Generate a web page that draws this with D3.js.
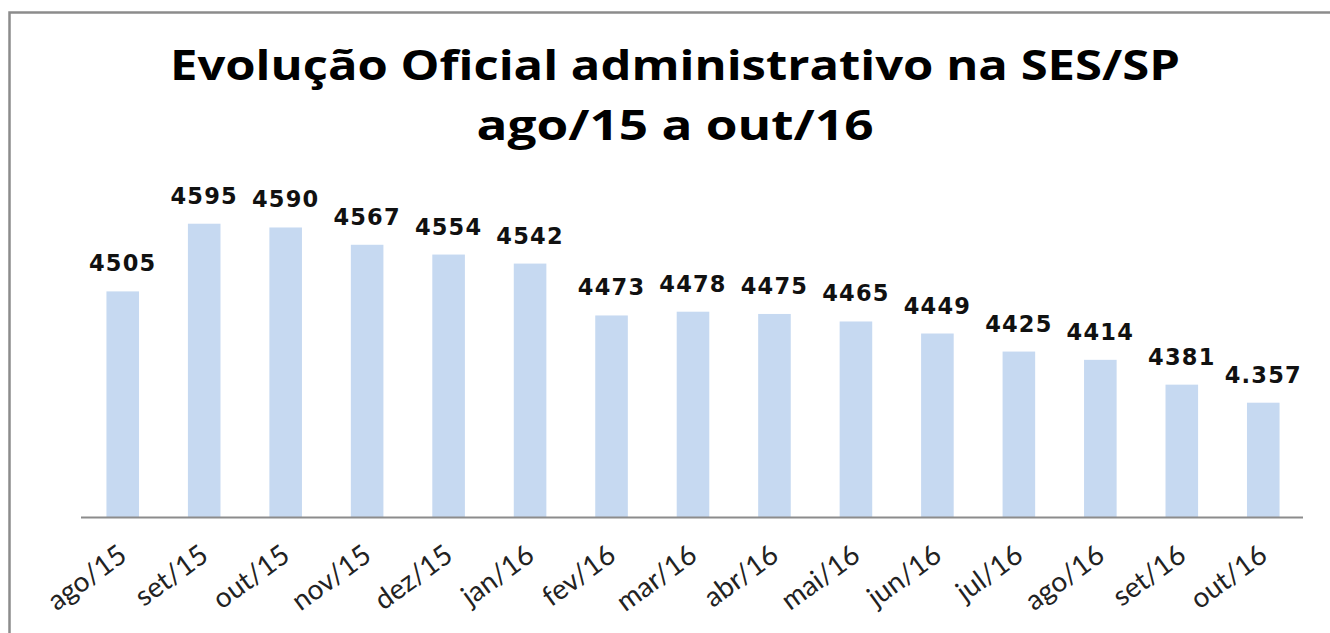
<!DOCTYPE html>
<html lang="pt">
<head>
<meta charset="UTF-8">
<title>Evolução Oficial administrativo na SES/SP</title>
<style>
  body { margin: 0; background: #fff; overflow: hidden; }
  svg { display: block; }
</style>
</head>
<body>
<div id="chart"></div>
<script src="https://d3js.org/d3.v7.min.js"></script>
<script>
// data
var months = ["ago/15", "set/15", "out/15", "nov/15", "dez/15", "jan/16", "fev/16", "mar/16",
              "abr/16", "mai/16", "jun/16", "jul/16", "ago/16", "set/16", "out/16"];
var values = [4505, 4595, 4590, 4567, 4554, 4542, 4473, 4478, 4475, 4465, 4449, 4425, 4414, 4381, 4357];
var valueLabels = ["4505", "4595", "4590", "4567", "4554", "4542", "4473", "4478", "4475", "4465",
                   "4449", "4425", "4414", "4381", "4.357"];
var titleLines = ["Evolução Oficial administrativo na SES/SP", "ago/15 a out/16"];

var W = 1330, H = 633;

var svg = d3.select("#chart").append("svg")
    .attr("width", W)
    .attr("height", H);

// chart frame: only top and left edges are inside the picture
svg.append("path")
    .attr("d", "M9.5," + H + "V12.5H" + W)
    .attr("fill", "none")
    .attr("stroke", "#8c8c8c")
    .attr("stroke-width", 2.5);

// title
var titleWidths = [1010, 397];
svg.selectAll("text.title")
    .data(titleLines)
    .enter().append("text")
    .attr("class", "title")
    .attr("x", 675)
    .attr("y", function (d, i) { return i === 0 ? 80 : 140; })
    .attr("text-anchor", "middle")
    .attr("font-family", "'Open Sans', sans-serif")
    .attr("font-weight", "bold")
    .attr("font-size", 42)
    .attr("textLength", function (d, i) { return titleWidths[i]; })
    .attr("lengthAdjust", "spacingAndGlyphs")
    .attr("fill", "#000")
    .text(function (d) { return d; });

// scales
var x = d3.scaleBand()
    .domain(months)
    .range([82, 1304])
    .paddingInner(0.6)
    .paddingOuter(0.3);

var y = d3.scaleLinear()
    .domain([4205, 4700])
    .range([517, 517 - 495 * 0.752]);

// bars
svg.selectAll("rect.bar")
    .data(values)
    .enter().append("rect")
    .attr("class", "bar")
    .attr("x", function (d, i) { return x(months[i]); })
    .attr("width", x.bandwidth())
    .attr("y", function (d) { return y(d); })
    .attr("height", function (d) { return y.range()[0] - y(d); })
    .attr("fill", "#c6d9f1");

// value labels
svg.selectAll("text.val")
    .data(values)
    .enter().append("text")
    .attr("class", "val")
    .attr("x", function (d, i) { return x(months[i]) + x.bandwidth() / 2; })
    .attr("y", function (d) { return y(d) - 20; })
    .attr("text-anchor", "middle")
    .attr("font-family", "'DejaVu Sans', sans-serif")
    .attr("font-weight", "bold")
    .attr("font-size", 22.5)
    .attr("letter-spacing", 1.2)
    .attr("fill", "#111")
    .text(function (d, i) { return valueLabels[i]; });

// x axis
var xAxis = svg.append("g")
    .attr("transform", "translate(0," + y.range()[0] + ")")
    .call(d3.axisBottom(x).tickSize(0).tickPadding(0));

xAxis.select(".domain")
    .attr("d", "M81,0.5H1303")
    .attr("stroke", "#8c8c8c")
    .attr("stroke-width", 2);

xAxis.selectAll("text")
    .attr("font-family", "Lato, sans-serif")
    .attr("font-size", 28)
    .attr("fill", "#222")
    .attr("text-anchor", "end")
    .attr("dy", 0)
    .attr("transform", "translate(6,42) rotate(-36)");
</script>
</body>
</html>
